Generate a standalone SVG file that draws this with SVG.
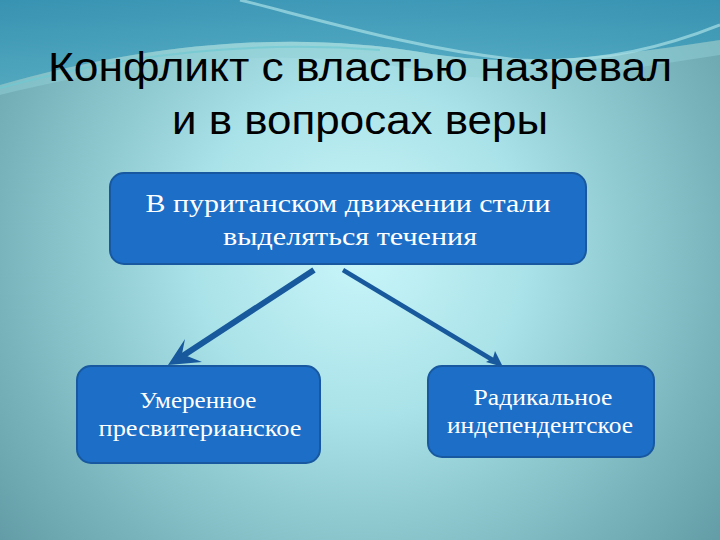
<svg xmlns="http://www.w3.org/2000/svg" width="720" height="540" viewBox="0 0 720 540">
<defs>
<radialGradient id="bg" cx="360" cy="250" r="480" gradientUnits="userSpaceOnUse">
<stop offset="0" stop-color="#c9f6fa"/>
<stop offset="0.35" stop-color="#a9e2e8"/>
<stop offset="0.75" stop-color="#79b4bc"/>
<stop offset="1" stop-color="#5f98a2"/>
</radialGradient>
<linearGradient id="top" x1="0" y1="0" x2="0" y2="1">
<stop offset="0" stop-color="#2f8fb2"/>
<stop offset="1" stop-color="#4aa6bf"/>
</linearGradient>
<style>
.box{stroke:#1858a0;stroke-width:2}
.t{font-family:"Liberation Serif","DejaVu Serif",serif;fill:#ffffff;text-anchor:middle}
.title{font-family:"Liberation Sans",Arial,sans-serif;fill:#000;font-size:40px;text-anchor:middle}
.con{stroke:#17599c;fill:none}
</style>
</defs>
<rect width="720" height="540" fill="url(#bg)"/>
<path d="M0,0 H720 V40 C620,55 520,70 420,52 C300,32 160,40 0,85 Z" fill="url(#top)" opacity="0.85"/>
<path d="M0,85 C160,40 300,32 420,52 C520,70 620,55 720,40 V55 C620,70 520,90 420,70 C300,48 160,55 0,95 Z" fill="#8fcfd6" opacity="0.5"/>
<path d="M240,0 C320,20 420,50 520,60 C600,65 670,45 720,25" stroke="#a8e0e6" stroke-width="3" fill="none" opacity="0.7"/>
<path d="M0,88 C120,55 250,40 380,50" stroke="#6fc9d2" stroke-width="2" fill="none" opacity="0.7"/>
<text class="title" x="360" y="81" textLength="624" lengthAdjust="spacingAndGlyphs">Конфликт с властью назревал</text>
<text class="title" x="360" y="134" textLength="376" lengthAdjust="spacingAndGlyphs">и в вопросах веры</text>
<g id="connectors">
<line class="con" x1="314" y1="270" x2="178" y2="359" stroke-width="6"/>
<polygon points="168,365 185,339 182,354 202,362" fill="#17599c"/>
<line class="con" x1="343" y1="270" x2="496" y2="362" stroke-width="4.5"/>
<polygon points="503,367 495,351 493,358 486,362" fill="#17599c"/>
</g>
<g id="node-top">
<rect class="box" x="110" y="173" width="476" height="91" rx="14" fill="#1c6ec6"/>
<text class="t" x="348" y="212" font-size="25" textLength="405" lengthAdjust="spacingAndGlyphs">В пуританском движении стали</text>
<text class="t" x="350" y="245" font-size="25" textLength="254" lengthAdjust="spacingAndGlyphs">выделяться течения</text>
</g>
<g id="node-left">
<rect class="box" x="77" y="366" width="243" height="97" rx="14" fill="#1c6ec6"/>
<text class="t" x="198" y="408" font-size="23" textLength="117" lengthAdjust="spacingAndGlyphs">Умеренное</text>
<text class="t" x="200" y="436" font-size="23" textLength="203" lengthAdjust="spacingAndGlyphs">пресвитерианское</text>
</g>
<g id="node-right">
<rect class="box" x="428" y="366" width="226" height="91" rx="14" fill="#1c6ec6"/>
<text class="t" x="543" y="405" font-size="23" textLength="139" lengthAdjust="spacingAndGlyphs">Радикальное</text>
<text class="t" x="540" y="433" font-size="23" textLength="186" lengthAdjust="spacingAndGlyphs">индепендентское</text>
</g>
</svg>
